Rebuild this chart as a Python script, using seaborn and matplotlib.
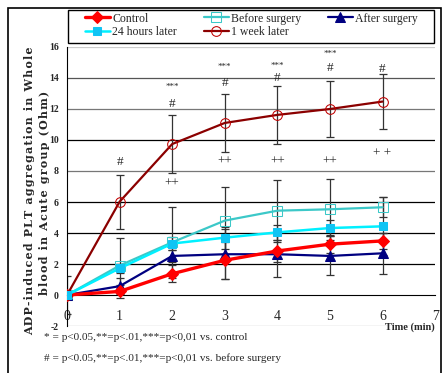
import matplotlib
matplotlib.use("Agg")
import matplotlib.pyplot as plt
from matplotlib.patches import Rectangle
import numpy as np
import pandas as pd
import seaborn as sns

# time points (min)
time_min = [0, 1, 2, 3, 4, 5, 6]

# mean aggregation (Ohm) per group
control = [0.0, 0.23, 1.37, 2.24, 2.84, 3.28, 3.49]
before_surgery = [0.0, 1.9, 3.4, 4.8, 5.44, 5.53, 5.66]
after_surgery = [0.0, 0.57, 2.52, 2.63, 2.63, 2.52, 2.69]
hours_24 = [0.0, 1.72, 3.32, 3.7, 4.04, 4.32, 4.43]
week_1 = [0.0, 6.02, 9.74, 11.1, 11.62, 12.0, 12.48]

# error bar half widths
control_err = [0.2, 0.4, 0.55, 1.2, 0.7, 0.6, 0.5]
before_err = [0.0, 1.8, 2.3, 2.14, 2.0, 1.95, 0.64]
after_err = [1.2, 0.5, 0.4, 1.6, 1.48, 1.26, 1.31]
hours_24_err = [0.0, 0.3, 0.4, 0.7, 0.5, 0.5, 1.87]
week_1_err = [0.0, 1.75, 1.85, 1.85, 1.85, 1.83, 1.8]

# significance marks above / below the 1 week curve
star_x = [2, 3, 4, 5]
star_y = [13.4, 14.7, 14.8, 15.55]
hash_x = [1, 2, 3, 4, 5, 6]
hash_y = [8.6, 12.3, 13.7, 14.0, 14.67, 14.6]
plus_x = [2, 3, 4, 5, 6]
plus_y = [7.2, 8.6, 8.6, 8.6, 9.15]
plus_txt = ["++", "++", "++", "++", "+ +"]

x_ticks = [0, 1, 2, 3, 4, 5, 6, 7]
y_ticks = [-2, 0, 2, 4, 6, 8, 10, 12, 14, 16]

ylabel_1 = "ADP-induced PLT aggregation in Whole"
ylabel_2 = "blood in Acute group (Ohm)"


def spaced(s):
    # the original label is letter-spaced, imitate it with hair spaces
    return "\u200a".join(s)


sns.set_style("white")
plt.rcParams['font.family'] = ['Liberation Serif', 'DejaVu Serif']

fig = plt.figure(figsize=(4.44, 3.73), dpi=100)
ax = fig.add_axes([0.151, 0.126, 0.829, 0.748])

# grid lines (drawn first so data sits on top)
grid_cols = {2: 'black', 4: 'black', 6: 'black', 8: '#777777', 10: 'black', 12: '#777777', 14: '#555555',
             16: '#cccccc', -2: '#aaaaaa'}
for gy, gc in grid_cols.items():
    ax.axhline(gy, color=gc, lw=0.9, zorder=0)

series = [
    ("Control", control, control_err, dict(color='#ff0000', marker='D', markersize=6, lw=2.4,
                                            markerfacecolor='#ff0000', markeredgecolor='#ff0000'), 3),
    ("Before surgery", before_surgery, before_err, dict(color='#3cc8c8', marker='s', markersize=7, lw=1.6,
                                                        markerfacecolor='none', markeredgecolor='#3cc8c8'), 2),
    ("After surgery", after_surgery, after_err, dict(color='#000080', marker='^', markersize=7.5, lw=1.6,
                                                     markerfacecolor='#000080', markeredgecolor='#000080'), 2),
    ("24 hours later", hours_24, hours_24_err, dict(color='#00f0ff', marker='s', markersize=5.5, lw=1.8,
                                                    markerfacecolor='#10c4f4', markeredgecolor='#10c4f4'), 5),
    ("1 week later", week_1, week_1_err, dict(color='#8b0000', marker='o', markersize=7, lw=1.6,
                                              markerfacecolor='none', markeredgecolor='#c00000'), 4),
]

for name, vals, errs, style, z in series:
    ax.errorbar(time_min, vals, yerr=errs, fmt='none', ecolor='#333333', elinewidth=0.9,
                capsize=3, capthick=0.9, zorder=1)
    sns.lineplot(x=time_min, y=vals, ax=ax, label=name, zorder=z, **style)

ax.get_legend().remove()

for xv, yv in zip(star_x, star_y):
    ax.text(xv, yv, "***", ha='center', va='center', fontsize=6.5)
for xv, yv in zip(hash_x, hash_y):
    ax.text(xv, yv, "#", ha='center', va='center', fontsize=9.5)
for xv, yv, t in zip(plus_x, plus_y, plus_txt):
    ax.text(xv, yv, t, ha='center', va='center', fontsize=9.5)

ax.set_xlim(0, 7)
ax.set_ylim(-2, 16)
ax.set_xticks(x_ticks)
ax.set_yticks(y_ticks)
ax.set_xticklabels([str(v) for v in x_ticks], fontweight='bold', fontsize=7.5)
ax.set_yticklabels([str(v) for v in y_ticks], fontweight='bold', fontsize=7)
ax.tick_params(axis='x', direction='out', length=3, width=0.9, pad=8, color='black')
ax.tick_params(axis='y', direction='out', length=3, width=0.9, pad=3, color='black')
ax.spines['bottom'].set_position(('data', 0))
ax.spines['bottom'].set_color('black')
ax.spines['left'].set_color('black')
ax.spines['top'].set_visible(False)
ax.spines['right'].set_visible(False)
ax.set_xlabel("")
ax.set_ylabel("")

fig.text(0.067, 0.488, spaced(ylabel_1), rotation=90, ha='center', va='center',
         fontsize=8, fontweight='bold', family=['DejaVu Serif'])
fig.text(0.100, 0.482, spaced(ylabel_2), rotation=90, ha='center', va='center',
         fontsize=8, fontweight='bold', family=['DejaVu Serif'])

fig.text(0.98, 0.123, "Time (min)", ha='right', va='center', fontsize=7.5, fontweight='bold')
fig.text(0.099, 0.094, "* = p<0.05,**=p<.01,***=p<0,01 vs. control", ha='left', va='center', fontsize=8.1)
fig.text(0.099, 0.040, "# = p<0.05,**=p<.01,***=p<0,01 vs. before surgery", ha='left', va='center', fontsize=8.1)

# legend frame drawn separately so the entries can be inset like the original
fig.patches.append(Rectangle((68 / 444, 1 - 42.5 / 373), 366 / 444, 32.5 / 373, transform=fig.transFigure,
                             fill=False, edgecolor='black', lw=1.0))
handles, labels = ax.get_legend_handles_labels()
order = [0, 3, 1, 4, 2]
fig.legend([handles[i] for i in order], [labels[i] for i in order], loc='center',
           bbox_to_anchor=(85 / 444, 1 - 41 / 373, 333 / 444, 31 / 373), mode='expand', ncol=3, fontsize=8.5,
           frameon=False, borderaxespad=0, borderpad=0, handlelength=2.1,
           handletextpad=0.2, labelspacing=0.15)

fig.patches.append(Rectangle((8 / 444, -0.05), 433 / 444, 1.05 - 8 / 373, transform=fig.transFigure,
                             fill=False, edgecolor='black', lw=1.2))

fig.savefig("out.png", dpi=100)
